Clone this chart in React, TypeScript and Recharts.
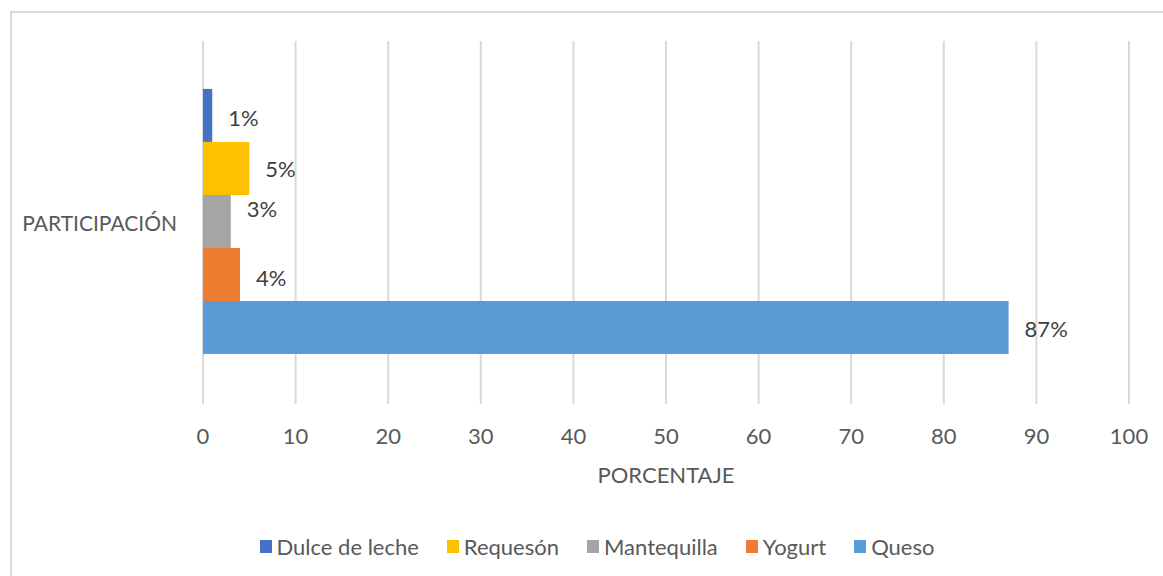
import { BarChart, Bar, XAxis, YAxis, CartesianGrid, Legend, LabelList, Label } from 'recharts';

const categories = ['PARTICIPACIÓN'];
const seriesKeys = ['dulce', 'requeson', 'mantequilla', 'yogurt', 'queso'];
const seriesNames = ['Dulce de leche', 'Requesón', 'Mantequilla', 'Yogurt', 'Queso'];
const seriesValues = [[1], [5], [3], [4], [87]];
const seriesColors = ['#4472C4', '#FFC000', '#A5A5A5', '#ED7D31', '#5B9BD5'];
const xTicks = [0, 10, 20, 30, 40, 50, 60, 70, 80, 90, 100];
const xTitle = 'PORCENTAJE';

const FONT = 'Lato, "Noto Sans", sans-serif';
const AXIS_TEXT = '#595959';
const LABEL_TEXT = '#404040';
// small vertical nudges of the data labels, like Excel's placement
const labelShift = [2, 0, -13, 3, 1];

const data = categories.map((cat, i) => {
  const row: Record<string, string | number> = { cat };
  seriesKeys.forEach((k, s) => { row[k] = seriesValues[s][i]; });
  return row;
});

const XTick = ({ x, y, payload }: any) => (
  <text x={x} y={y} textAnchor="middle" dominantBaseline="central" fill={AXIS_TEXT}
        fontSize={22} fontFamily={FONT}>{payload.value}</text>
);

const YTick = ({ x, y, payload }: any) => (
  <text x={x} y={y} textAnchor="end" dominantBaseline="central" fill={AXIS_TEXT}
        fontSize={21} fontFamily={FONT}>{payload.value}</text>
);

// keep the series order (Recharts would sort the legend by name)
const LegendBox = () => (
  <div style={{ height: 40, display: 'flex', alignItems: 'center', justifyContent: 'center',
    fontFamily: FONT, fontSize: 22, color: AXIS_TEXT }}>
    {seriesNames.map((name, s) => (
      <div key={name} style={{ display: 'flex', alignItems: 'center', margin: '0 14px' }}>
        <span style={{ width: 12, height: 13, background: seriesColors[s], marginRight: 5, display: 'inline-block' }} />
        <span>{name}</span>
      </div>
    ))}
  </div>
);

export default function App() {
  return (
    <div style={{ position: 'absolute', left: 0, top: 0, width: 1163, height: 576, overflow: 'hidden', background: '#fff' }}>
      <div style={{ position: 'absolute', left: 10, top: 11, width: 1170, height: 580, border: '2px solid #d9d9d9' }} />
      <div style={{ position: 'absolute', left: 0, top: 0 }}>
        <BarChart width={1163} height={576} data={data} layout="vertical"
                  margin={{ top: 41, right: 34, bottom: 10, left: 0 }}
                  barCategoryGap="13.2%" barGap={0}>
          <CartesianGrid horizontal={false} stroke="#d9d9d9" strokeWidth={2} />
          <XAxis type="number" domain={[0, 100]} ticks={xTicks} interval={0} axisLine={false} tickLine={false}
                 tickSize={6} tickMargin={25} height={122} tick={<XTick />}>
            <Label content={({ viewBox }: any) => (
              <text x={viewBox.x + viewBox.width / 2} y={viewBox.y + 70} textAnchor="middle"
                    dominantBaseline="central" fill={AXIS_TEXT} fontSize={22} fontFamily={FONT}>{xTitle}</text>
            )} />
          </XAxis>
          <YAxis type="category" dataKey="cat" width={203} axisLine={false} tickLine={false}
                 tickSize={6} tickMargin={20} tick={<YTick />} />
          <Legend verticalAlign="bottom" align="center" content={<LegendBox />}
                  wrapperStyle={{ left: 31, width: 1132 }} />
          {seriesKeys.map((k, s) => (
            <Bar key={k} dataKey={k} name={seriesNames[s]} fill={seriesColors[s]} isAnimationActive={false}>
              <LabelList dataKey={k} content={(p: any) => (
                <text x={p.x + p.width + 16} y={p.y + p.height / 2 + labelShift[s]} dominantBaseline="central"
                      fill={LABEL_TEXT} fontSize={22} fontFamily={FONT}>{`${p.value}%`}</text>
              )} />
            </Bar>
          ))}
        </BarChart>
      </div>
    </div>
  );
}
